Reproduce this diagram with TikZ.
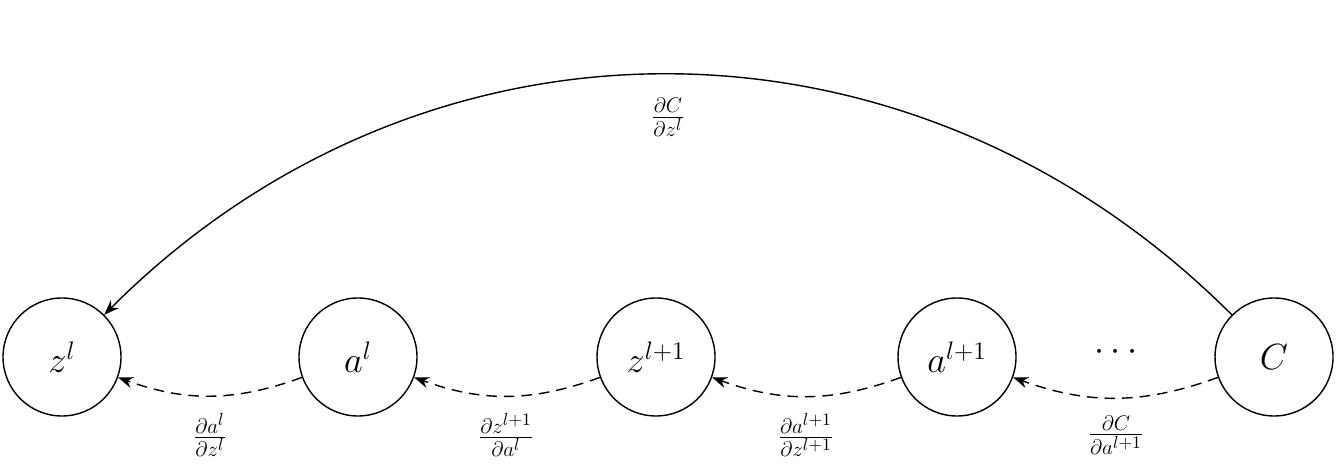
\documentclass[tikz,border=0pt]{standalone}
\usetikzlibrary{arrows.meta}
\begin{document}
\begin{tikzpicture}[
  nd/.style={circle,draw,thick,minimum size=2.36cm,inner sep=0pt,font=\huge},
  back/.style={-{Stealth[length=3mm]},thick,dashed,dash pattern=on 6pt off 4pt},
  lab/.style={font=\LARGE}]
\useasboundingbox (0,0) rectangle (26.74,9.5);
\node[nd] (zl) at (1.24,2.36) {$z^l$};
\node[nd] (al) at (7.16,2.36) {$a^l$};
\node[nd] (zl1) at (13.12,2.36) {$z^{l+1}$};
\node[nd] (al1) at (19.14,2.36) {$a^{l+1}$};
\node[font=\huge] (dots) at (22.32,2.46) {$\cdots$};
\node[nd] (C) at (25.48,2.36) {$C$};
\draw[back] (al.200) to[out=200,in=-20] (zl.-20);
\draw[back] (zl1.200) to[out=200,in=-20] (al.-20);
\draw[back] (al1.200) to[out=200,in=-20] (zl1.-20);
\draw[back] (C.200) to[out=200,in=-20] (al1.-20);
\node[lab] (l1) at (4.2,0.8) {$\frac{\partial a^l}{\partial z^l}$};
\node[lab] (l2) at (10.12,0.8) {$\frac{\partial z^{l+1}}{\partial a^l}$};
\node[lab] (l3) at (16.12,0.8) {$\frac{\partial a^{l+1}}{\partial z^{l+1}}$};
\node[lab] (l4) at (22.32,0.8) {$\frac{\partial C}{\partial a^{l+1}}$};
\draw[-{Stealth[length=3mm]},thick] (C.135) to[out=135,in=45,looseness=1.03] (zl.45);
\node[lab] (top) at (13.36,7.15) {$\frac{\partial C}{\partial z^l}$};
\end{tikzpicture}
\end{document}
